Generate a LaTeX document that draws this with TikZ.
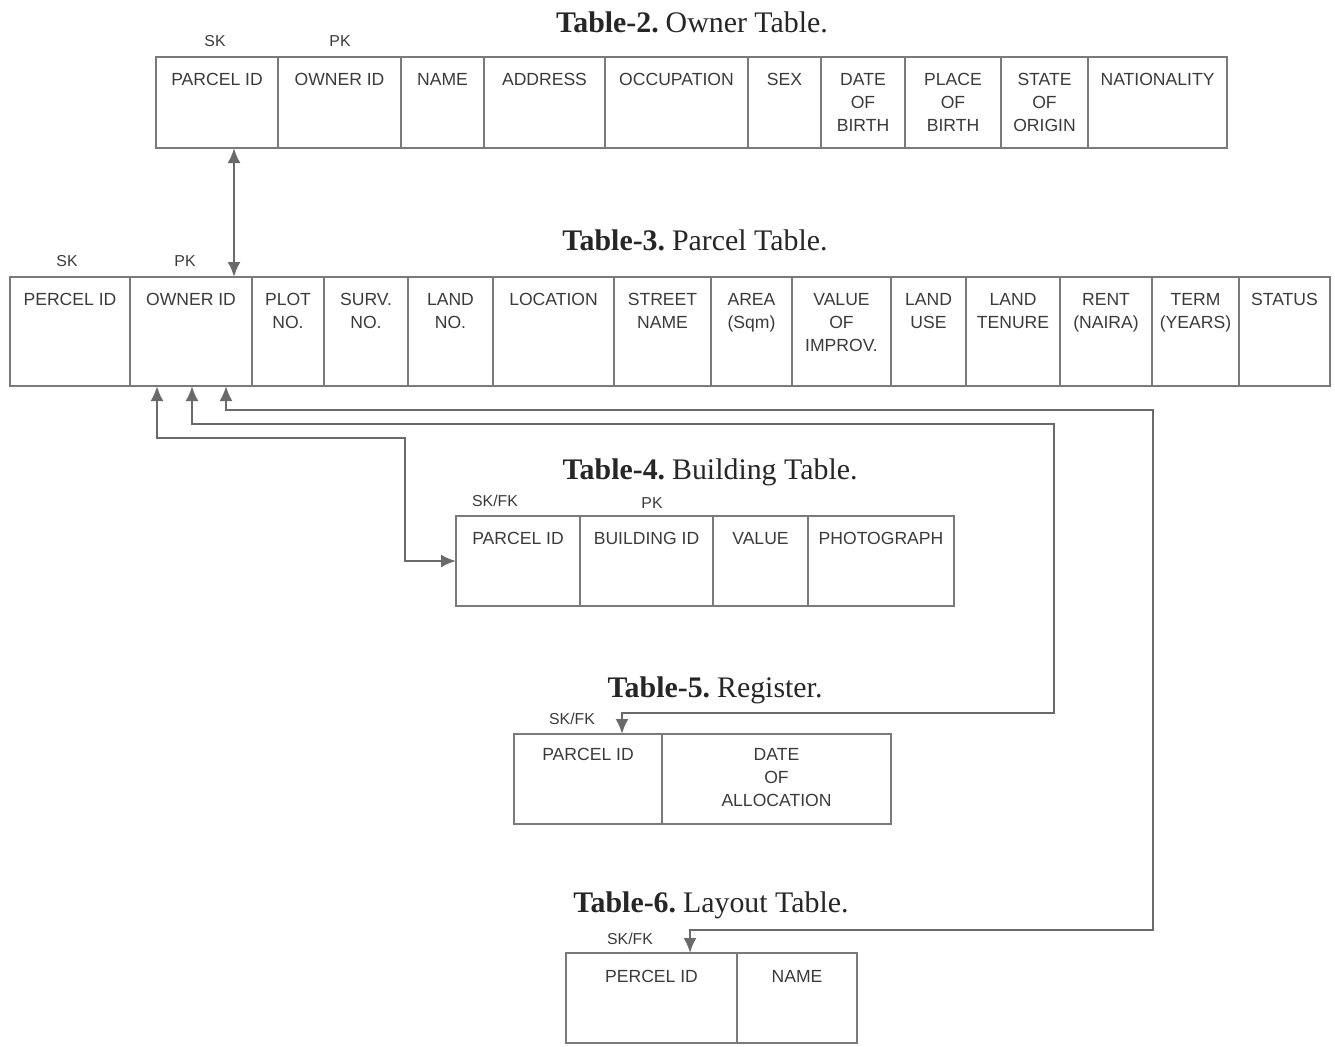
\documentclass[tikz,border=0pt]{standalone}
\usepackage{fontspec}
\setmainfont{Liberation Serif}
\setsansfont{Liberation Sans}
\usepackage{tikz}
\usetikzlibrary{shapes,arrows,arrows.meta,positioning,calc}
\usepackage{xcolor}

\definecolor{rulegray}{HTML}{7A7A7A}
\definecolor{linkgray}{HTML}{6A6A6A}
\definecolor{txtgray}{HTML}{3A3A3A}

\tikzset{
    cellbox/.style={draw=rulegray, line width=1.1pt, rectangle, inner sep=0pt, outer sep=0pt, anchor=north west},
    celltxt/.style={anchor=north, align=center, inner sep=0pt, text=txtgray, font=\sffamily\fontsize{10}{13}\selectfont},
    keytxt/.style={anchor=base, inner sep=0pt, text=txtgray, font=\sffamily\fontsize{9}{11}\selectfont},
    tabtitle/.style={anchor=base, inner sep=0pt, text=black!85, font=\fontsize{17}{20}\selectfont},
    link/.style={draw=linkgray, line width=1.3pt, {Latex[length=3mm,width=2.6mm]}-{Latex[length=3mm,width=2.6mm]}},
}

\begin{document}
\begin{tikzpicture}[x=0.02cm, y=-0.02cm]
        \useasboundingbox (0,0) rectangle (1335,1046);

        % Owner table
        \node[tabtitle] (owtitle) at (692,32) {\textbf{Table-2.}\hspace{-0.1em} Owner Table.};
        \foreach \a/\b/\t [count=\i] in {156/278/PARCEL ID, 278/401/OWNER ID, 401/484/NAME, 484/605/ADDRESS, 605/748/OCCUPATION, 748/821/SEX, 821/905/DATE\\OF\\BIRTH, 905/1001/PLACE\\OF\\BIRTH, 1001/1088/STATE\\OF\\ORIGIN, 1088/1227/NATIONALITY} {
            \node[cellbox, minimum width={(\b-\a)*0.02cm}, minimum height={91*0.02cm}] (ow\i) at (\a,57) {};
            \node[celltxt] (ow\i txt) at ($(ow\i.north)+(0,16)$) {\t};
        }
        \node[keytxt] (owsk) at (215,46) {SK};
        \node[keytxt] (owpk) at (340,46) {PK};

        % Parcel table
        \node[tabtitle] (pctitle) at (695,250) {\textbf{Table-3.}\hspace{-0.1em} Parcel Table.};
        \foreach \a/\b/\t [count=\i] in {10/130/PERCEL ID, 130/252/OWNER ID, 252/324/PLOT\\NO., 324/408/SURV.\\NO., 408/493/LAND\\NO., 493/614/LOCATION, 614/711/STREET\\NAME, 711/792/AREA\\(Sqm), 792/891/VALUE\\OF\\IMPROV., 891/966/LAND\\USE, 966/1060/LAND\\TENURE, 1060/1152/RENT\\(NAIRA), 1152/1239/TERM\\(YEARS), 1239/1330/STATUS} {
            \node[cellbox, minimum width={(\b-\a)*0.02cm}, minimum height={109*0.02cm}] (pc\i) at (\a,277) {};
            \node[celltxt] (pc\i txt) at ($(pc\i.north)+(0,16)$) {\t};
        }
        \node[keytxt] (pcsk) at (67,266) {SK};
        \node[keytxt] (pcpk) at (185,266) {PK};

        % Building table
        \node[tabtitle] (bdtitle) at (710,479) {\textbf{Table-4.}\hspace{-0.1em} Building Table.};
        \foreach \a/\b/\t [count=\i] in {456/580/PARCEL ID, 580/713/BUILDING ID, 713/808/VALUE, 808/954/PHOTOGRAPH} {
            \node[cellbox, minimum width={(\b-\a)*0.02cm}, minimum height={90*0.02cm}] (bd\i) at (\a,516) {};
            \node[celltxt] (bd\i txt) at ($(bd\i.north)+(0,16)$) {\t};
        }
        \node[keytxt] (bdsk) at (495,506) {SK/FK};
        \node[keytxt] (bdpk) at (652,508) {PK};

        % Register
        \node[tabtitle] (rgtitle) at (715,697) {\textbf{Table-5.}\hspace{-0.1em} Register.};
        \foreach \a/\b/\t [count=\i] in {514/662/PARCEL ID, 662/891/DATE\\OF\\ALLOCATION} {
            \node[cellbox, minimum width={(\b-\a)*0.02cm}, minimum height={90*0.02cm}] (rg\i) at (\a,734) {};
            \node[celltxt] (rg\i txt) at ($(rg\i.north)+(0,14)$) {\t};
        }
        \node[keytxt] (rgsk) at (572,724) {SK/FK};

        % Layout table
        \node[tabtitle] (lytitle) at (711,912) {\textbf{Table-6.}\hspace{-0.1em} Layout Table.};
        \foreach \a/\b/\t [count=\i] in {566/737/PERCEL ID, 737/857/NAME} {
            \node[cellbox, minimum width={(\b-\a)*0.02cm}, minimum height={90*0.02cm}] (ly\i) at (\a,953) {};
            \node[celltxt] (ly\i txt) at ($(ly\i.north)+(0,17)$) {\t};
        }
        \node[keytxt] (lysk) at (630,944) {SK/FK};

        % Links
        \coordinate (owlink) at ($(ow1.south)+(17,0)$);
        \draw[link] (owlink) -- (owlink |- pc2.north);
        \draw[link] ($(pc2.south)+(-34,0)$) -- ++(0,52) -| ($(bd1.west)+(-51,0)$) -- (bd1.west);
        \draw[link] ($(pc2.south)+(1,0)$) -- ++(0,38) -| ($(rg1.north)+(466,-21)$) -| ($(rg1.north)+(34,0)$);
        \draw[link] ($(pc2.south)+(35,0)$) -- ++(0,24) -| ($(ly1.north)+(501.5,-23)$) -| ($(ly1.north)+(38.5,0)$);
    \end{tikzpicture}
\end{document}
